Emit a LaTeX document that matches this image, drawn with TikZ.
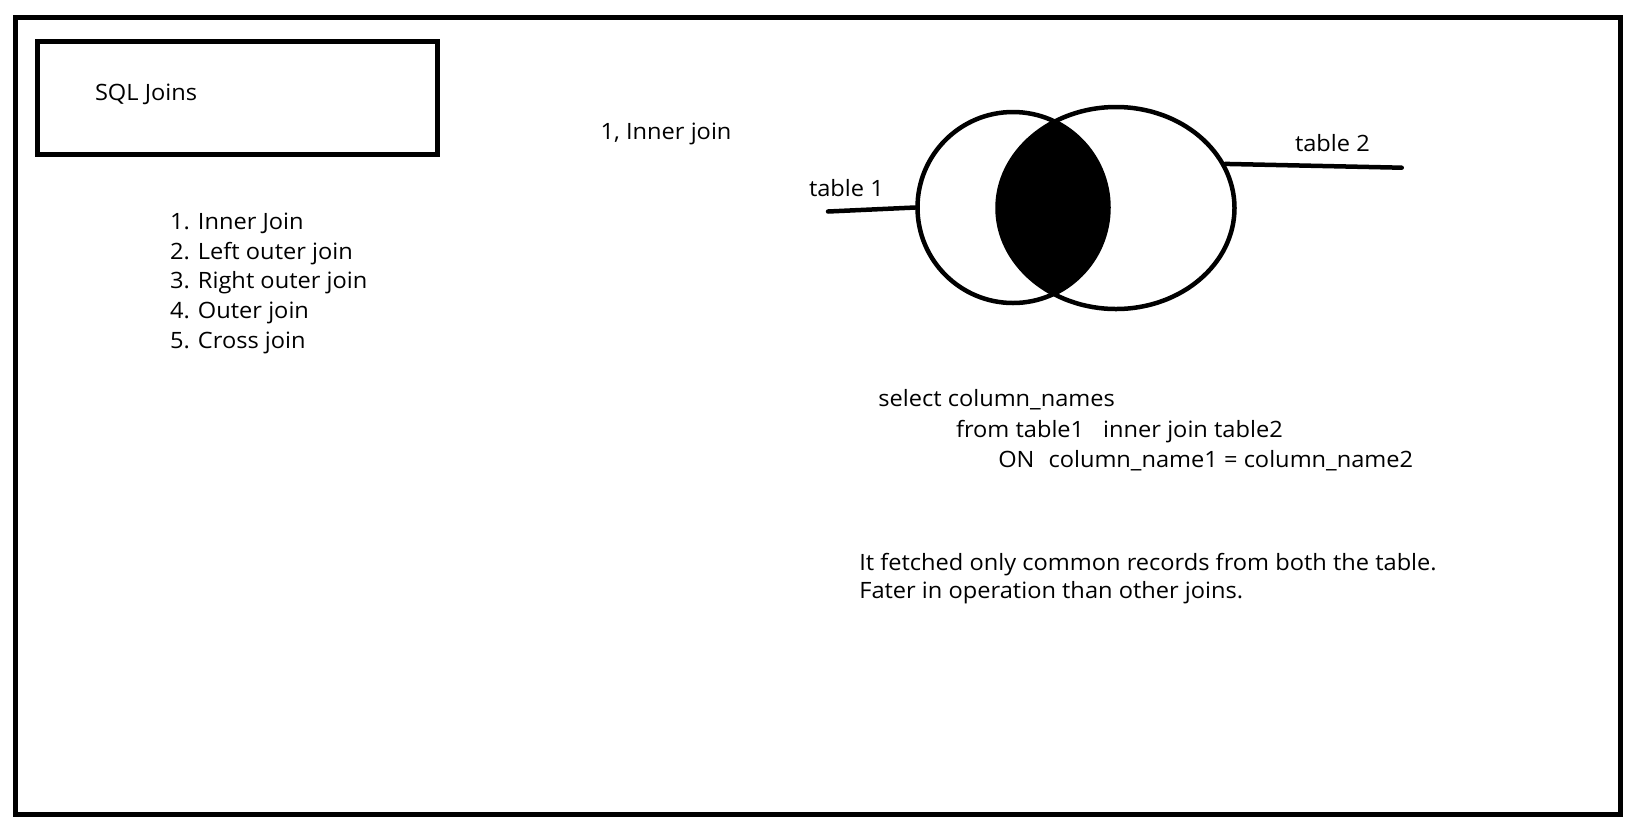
\documentclass[tikz,border=0pt]{standalone}
\usepackage{fontspec}
\setmainfont{Open Sans}[FakeStretch=1.05]
\usetikzlibrary{shapes.geometric}
\tikzset{
  frame/.style={draw=black, line width=5pt},
  txt/.style={anchor=base west, inner sep=0pt, outer sep=0pt, font=\fontsize{22.5}{30}\selectfont},
  venn/.style={draw=black, line width=4.5pt, inner sep=0pt},
  lead/.style={draw=black, line width=4.5pt, line cap=round}
}
\begin{document}
\begin{tikzpicture}[x=1pt, y=-1pt]
\useasboundingbox (0,0) rectangle (1630,831);
\fill[white] (0,0) rectangle (1630,831);
% outer frame
\draw[frame] (15.5,17.5) rectangle (1620.5,814.5);
% title box
\draw[frame] (37.5,41.5) rectangle (437.5,154.5);
\node[txt] (title) at (95,100.5) {SQL Joins};
% list
\node[txt] (l1) at (170,229) {1. Inner Join};
\node[txt] (l2) at (170,259) {2. Left outer join};
\node[txt] (l3) at (170,288.5) {3. Right outer join};
\node[txt] (l4) at (170,318) {4. Outer join};
\node[txt] (l5) at (170,348) {5. Cross join};
% heading
\node[txt] (ij) at (600.7,139.3) {1, Inner join};
% lens
\begin{scope}
  \clip (1013,207.5) circle (95.5pt);
  \fill[black] (1116,208) ellipse [x radius=118.5pt, y radius=101pt];
\end{scope}
% venn circles
\node[venn, circle, minimum size=191pt] (t1) at (1013,207.5) {};
\node[venn, ellipse, minimum width=237pt, minimum height=202pt] (t2) at (1116,208) {};
% labels and leader lines
\node[txt] (lab1) at (809,196.7) {table 1};
\node[txt] (lab2) at (1295,151.7) {table 2};
\coordinate (e1) at (828,211.5);
\coordinate (e2) at (1401.7,167.7);
\draw[lead] (e1) -- (t1.west);
\draw[lead] (t2.22) -- (e2);
% sql
\node[txt] (s1) at (878.3,406.7) {select column\_names};
\node[txt] (s2) at (956,437.3) {from table1\hspace{19pt}inner join table2};
\node[txt] (s3) at (998.3,467.3) {ON\hspace{14pt}column\_name1 = column\_name2};
% notes
\node[txt] (n1) at (859.3,570) {It fetched only common records from both the table.};
\node[txt] (n2) at (859.3,598.3) {Fater in operation than other joins.};
\end{tikzpicture}
\end{document}
